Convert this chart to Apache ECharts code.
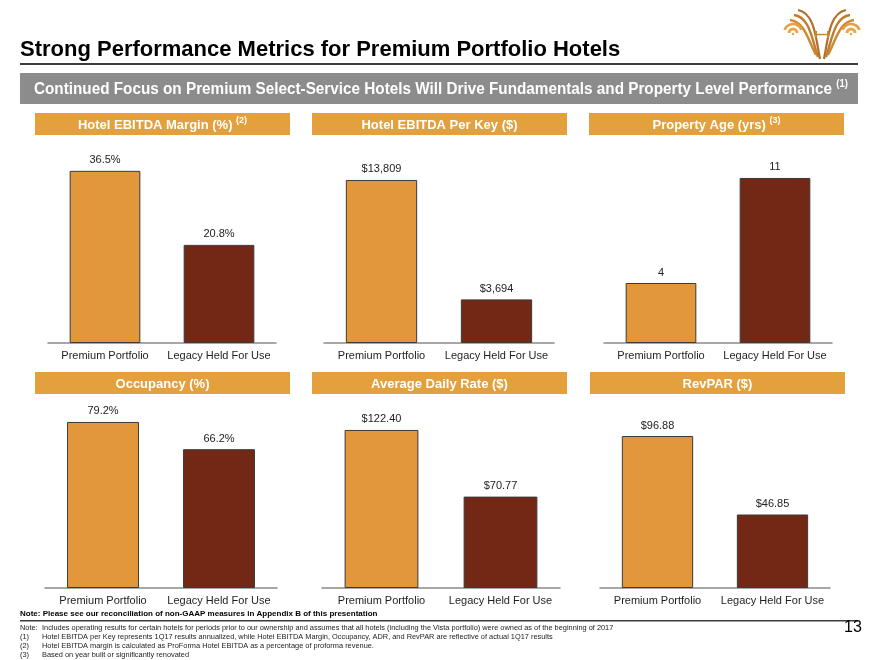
<!DOCTYPE html>
<html>
<head>
<meta charset="utf-8">
<script src="https://cdn.jsdelivr.net/npm/echarts@6/dist/echarts.min.js"></script>
<style>html,body{margin:0;padding:0;background:#fff}#c{width:880px;height:660px}</style>
</head>
<body>
<div id="c"></div>
<script>
// ---- data ----
const categories = ['Premium Portfolio', 'Legacy Held For Use'];
const ebitdaMargin = [36.5, 20.8];
const ebitdaPerKey = [13809, 3694];
const propertyAge = [4, 11];
const occupancy = [79.2, 66.2];
const avgDailyRate = [122.40, 70.77];
const revPar = [96.88, 46.85];
const panelTitles = ['Hotel EBITDA Margin (%)', 'Hotel EBITDA Per Key ($)', 'Property Age (yrs)',
                     'Occupancy (%)', 'Average Daily Rate ($)', 'RevPAR ($)'];
const panelNotes = ['(2)', '', '(3)', '', '', ''];
const titleText = 'Strong Performance Metrics for Premium Portfolio Hotels';
const bannerText = 'Continued Focus on Premium Select-Service Hotels Will Drive Fundamentals and Property Level Performance';
const bannerNote = '(1)';
const boldNote = 'Note: Please see our reconciliation of non-GAAP measures in Appendix B of this presentation';
const noteLabels = ['Note:', '(1)', '(2)', '(3)'];
const noteTexts = [
  'Includes operating results for certain hotels for periods prior to our ownership and assumes that all hotels (including the Vista portfolio) were owned as of the beginning of 2017',
  'Hotel EBITDA per Key represents 1Q17 results annualized, while Hotel EBITDA Margin, Occupancy, ADR, and RevPAR are reflective of actual 1Q17 results',
  'Hotel EBITDA margin is calculated as ProForma Hotel EBITDA as a percentage of proforma revenue.',
  'Based on year built or significantly renovated'
];
const pageNumber = '13';

// ---- layout / style ----
const FONT = '"Liberation Sans", Arial, sans-serif';
const barColors = ['#E3973B', '#722814'];
const headerColor = '#E4A03C';
const panels = [
  {vals: ebitdaMargin, fmt: v => v.toFixed(1) + '%', max: 42.4, grid: {left: 48, width: 228, top: 143, height: 200}, hx: 35},
  {vals: ebitdaPerKey, fmt: v => '$' + v.toLocaleString('en-US'), max: 16940, grid: {left: 324, width: 230, top: 143, height: 200}, hx: 312},
  {vals: propertyAge, fmt: v => String(v), max: 13.33, grid: {left: 604, width: 228, top: 143, height: 200}, hx: 589},
  {vals: occupancy, fmt: v => v.toFixed(1) + '%', max: 95.4, grid: {left: 45, width: 232, top: 388, height: 200}, hx: 35},
  {vals: avgDailyRate, fmt: v => '$' + v.toFixed(2), max: 154.9, grid: {left: 322, width: 238, top: 388, height: 200}, hx: 312},
  {vals: revPar, fmt: v => '$' + v.toFixed(2), max: 127.5, grid: {left: 600, width: 230, top: 388, height: 200}, hx: 590}
];
const headerY = [113, 113, 113, 372, 372, 372];

const grid = [], xAxis = [], yAxis = [], series = [];
panels.forEach((p, i) => {
  grid.push(Object.assign({}, p.grid));
  xAxis.push({
    type: 'category', gridIndex: i, data: categories,
    axisLine: {lineStyle: {color: '#8a8a8a', width: 1.5}},
    axisTick: {length: 4, lineStyle: {color: '#8a8a8a', width: 1.2}},
    axisLabel: {color: '#1e1e1e', fontSize: 11, fontFamily: FONT, margin: 7, interval: 0}
  });
  yAxis.push({type: 'value', gridIndex: i, min: 0, max: p.max, show: false, splitLine: {show: false}});
  series.push({
    type: 'bar', xAxisIndex: i, yAxisIndex: i, barWidth: '62%',
    data: p.vals.map((v, j) => ({value: v, itemStyle: {color: barColors[j]}})),
    itemStyle: {borderColor: '#3a3a3a', borderWidth: 1},
    label: {show: true, position: 'top', distance: 5, color: '#222', fontSize: 11, fontFamily: FONT,
            formatter: d => p.fmt(d.value)},
    silent: true, animation: false
  });
});

const graphic = [];
// title
graphic.push({type: 'text', x: 20, y: 39, style: {text: titleText, font: 'bold 22px ' + FONT, fill: '#000'}});
graphic.push({type: 'rect', shape: {x: 20, y: 63, width: 838, height: 2}, style: {fill: '#3c3c3c'}});
// banner
graphic.push({type: 'rect', shape: {x: 20, y: 73, width: 838, height: 31}, style: {fill: '#8C8C8C'}});
graphic.push({type: 'text', x: 34, y: 79, scaleX: 0.955, style: {
  text: '{a|' + bannerText + ' }{s|' + bannerNote + '}',
  rich: {a: {font: 'bold 16px ' + FONT, fill: '#fff', lineHeight: 19, verticalAlign: 'bottom'},
         s: {font: 'bold 10px ' + FONT, fill: '#fff', lineHeight: 19, verticalAlign: 'top'}}
}});
// headers
panels.forEach((p, i) => {
  graphic.push({type: 'rect', shape: {x: p.hx, y: headerY[i], width: 255, height: 22}, style: {fill: headerColor}});
  const txt = panelNotes[i] ? '{a|' + panelTitles[i] + ' }{s|' + panelNotes[i] + '}' : '{a|' + panelTitles[i] + '}';
  graphic.push({type: 'text', x: p.hx + 127.5, y: headerY[i] + 11, style: {
    text: txt, align: 'center', verticalAlign: 'middle',
    rich: {a: {font: 'bold 13px ' + FONT, fill: '#fff', lineHeight: 16, verticalAlign: 'bottom'},
           s: {font: 'bold 9px ' + FONT, fill: '#fff', lineHeight: 16, verticalAlign: 'top'}}
  }});
});
// footer
graphic.push({type: 'text', x: 20, y: 610, style: {text: boldNote, font: 'bold 8px ' + FONT, fill: '#000'}});
graphic.push({type: 'rect', shape: {x: 20, y: 620, width: 838, height: 1.5}, style: {fill: '#3c3c3c'}});
noteLabels.forEach((l, k) => {
  graphic.push({type: 'text', x: 20, y: 624.5 + k * 9, style: {text: l, font: '7.4px ' + FONT, fill: '#222'}});
  graphic.push({type: 'text', x: 42, y: 624.5 + k * 9, style: {text: noteTexts[k], font: '7.4px ' + FONT, fill: '#222'}});
});
graphic.push({type: 'text', x: 844, y: 620, style: {text: pageNumber, font: '16px ' + FONT, fill: '#000'}});

// logo (decorative): small domes + swooping curves, mirrored around x = 822
const logo = [];
const D = Math.PI / 180;
const MX = 822;
const curves = [
  {p: [798, 10, 815, 13, 816, 40, 820, 59], w: 2.2, c: '#B36F28'},
  {p: [794, 15, 810, 17, 812, 40, 818, 57], w: 2.4, c: '#C07C2C'},
  {p: [790, 20, 805, 22, 808, 40, 816, 55], w: 2.4, c: '#CD8A33'}
];
[1, -1].forEach(dir => {
  const fx = x => dir > 0 ? x : 2 * MX - x;
  curves.forEach(cv => {
    const q = cv.p;
    logo.push({type: 'bezierCurve', shape: {x1: fx(q[0]), y1: q[1], cpx1: fx(q[2]), cpy1: q[3],
                                            cpx2: fx(q[4]), cpy2: q[5], x2: fx(q[6]), y2: q[7]},
               style: {stroke: cv.c, lineWidth: cv.w, fill: null}});
  });
  const cx = fx(793), cy = 33;
  // inner arc and dome
  let s = -160 * D, e = -20 * D;
  logo.push({type: 'arc', shape: {cx: cx, cy: cy, r: 9, startAngle: s, endAngle: e, clockwise: true},
             style: {stroke: '#E3A047', lineWidth: 2.6, fill: null}});
  logo.push({type: 'arc', shape: {cx: cx, cy: cy, r: 4, startAngle: -Math.PI, endAngle: 0, clockwise: true},
             style: {stroke: '#E9A84A', lineWidth: 3, fill: null}});
  logo.push({type: 'circle', shape: {cx: cx, cy: cy + 1, r: 1.3}, style: {fill: '#E9A84A'}});
});
logo.push({type: 'rect', shape: {x: 815, y: 31, width: 2, height: 7}, style: {fill: '#C8862F'}});
logo.push({type: 'rect', shape: {x: 827, y: 31, width: 2, height: 7}, style: {fill: '#C8862F'}});
logo.push({type: 'rect', shape: {x: 815, y: 33.8, width: 14, height: 1.5}, style: {fill: '#C8862F'}});
graphic.push({type: 'group', children: logo, silent: true});

const chart = echarts.init(document.getElementById('c'), null, {renderer: 'canvas'});
chart.setOption({
  backgroundColor: '#fff', animation: false,
  textStyle: {fontFamily: FONT},
  grid, xAxis, yAxis, series, graphic
});
</script>
</body>
</html>
